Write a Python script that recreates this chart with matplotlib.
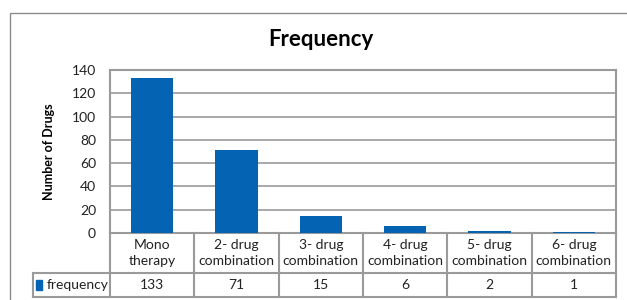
#
# Frequency of drug combinations - bar chart with data table
#

import matplotlib
matplotlib.use('Agg')
from matplotlib import pyplot as plt
from matplotlib.patches import Rectangle

plt.rcParams['font.family'] = ['Lato', 'DejaVu Sans']

# =========================================================================

categories = ['Mono\ntherapy', '2- drug\ncombination', '3- drug\ncombination',
              '4- drug\ncombination', '5- drug\ncombination', '6- drug\ncombination']
frequency = [133, 71, 15, 6, 2, 1]
series_name = 'frequency'
yticks = [0, 20, 40, 60, 80, 100, 120, 140]

blue = '#0563B4'
grey = '#9a9a9a'

# ============================= mainProgram ===============================

W, H = 627, 300
fig = plt.figure(figsize=(W / 100, H / 100), dpi=100)

# outer chart frame (cropped on the right and bottom)
fig.patches.append(Rectangle((10 / W, -0.1), 1.2, 1 - 13 / H + 0.1,
                             transform=fig.transFigure, fill=False,
                             edgecolor='#8c8c8c', linewidth=1.0))

x0, x1, ytop, ybot = 110, 616, 70, 233
ax = fig.add_axes([x0 / W, 1 - ybot / H, (x1 - x0) / W, (ybot - ytop) / H])

n = len(categories)
ax.bar([i + 0.5 for i in range(n)], frequency, width=0.5, color=blue, zorder=3)
ax.set_xlim(0, n)
ax.set_ylim(0, 140)
ax.set_yticks(yticks)
ax.set_xticks([])
ax.tick_params(axis='y', length=0, pad=10, labelsize=10, labelcolor='#222222')
ax.yaxis.grid(True, color=grey, linewidth=1.2, zorder=0)
for s in ax.spines.values():
  s.set_color(grey)
  s.set_linewidth(1.5)

ax.set_ylabel('Number of Drugs', fontsize=9, fontweight='bold', labelpad=12)
fig.text(0.512, 1 - 40 / H, 'Frequency', ha='center', va='center',
         fontsize=16, fontweight='bold')

# data table under the axis
ph = ybot - ytop
r1 = -(273 - ybot) / ph
r2 = -(297 - ybot) / ph
lx = -(x0 - 33) / (x1 - x0)
kw = dict(color=grey, linewidth=1.5, clip_on=False, transform=ax.transAxes)
ax.plot([lx, 1], [r1, r1], **kw)
ax.plot([lx, 1], [r2, r2], **kw)
ax.plot([lx, lx], [r1, r2], **kw)
for i in range(n + 1):
  ax.plot([i / n, i / n], [0, r2], **kw)

for i, (c, v) in enumerate(zip(categories, frequency)):
  xc = (i + 0.5) / n
  ax.text(xc, r1 / 2, c, ha='center', va='center', fontsize=10,
          transform=ax.transAxes, linespacing=1.4, color='#222222')
  ax.text(xc, (r1 + r2) / 2, str(v), ha='center', va='center', fontsize=10,
          transform=ax.transAxes, color='#222222')

ax.add_patch(Rectangle((lx + 0.006, (r1 + r2) / 2 - 0.03), 0.012, 0.06,
                       transform=ax.transAxes, color=blue, clip_on=False))
ax.text(lx + 0.028, (r1 + r2) / 2, series_name, ha='left', va='center',
        fontsize=10, transform=ax.transAxes, color='#222222')

fig.savefig('out.png', dpi=100)

# =========================================================================
